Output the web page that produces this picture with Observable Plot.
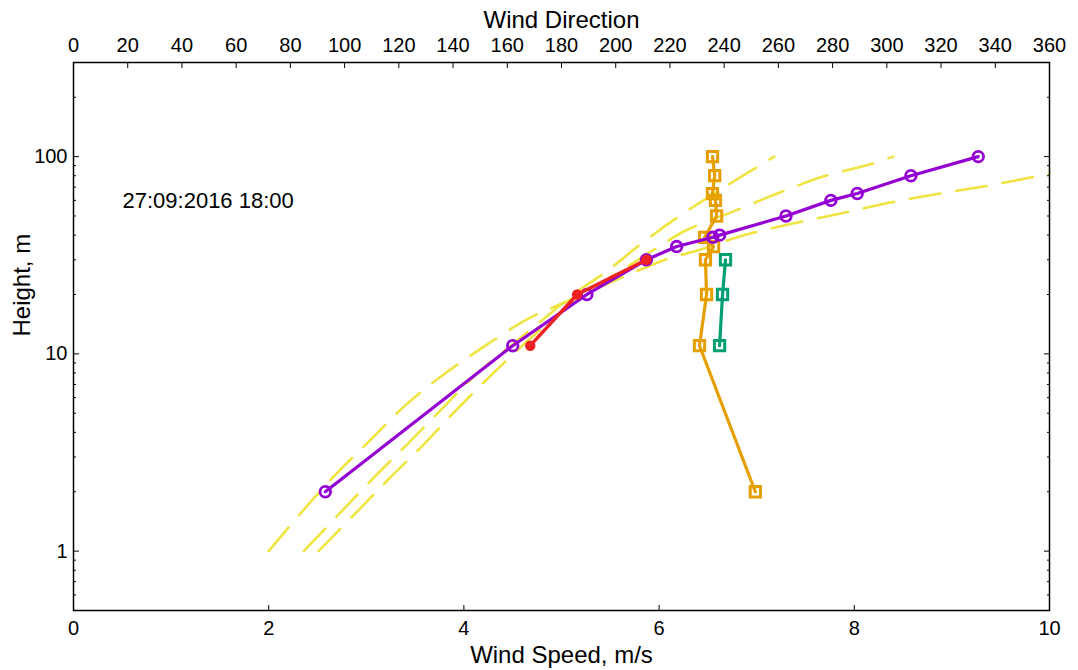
<!DOCTYPE html>
<html>
<head>
<meta charset="utf-8">
<script src="https://cdn.jsdelivr.net/npm/d3@7"></script>
<script src="https://cdn.jsdelivr.net/npm/@observablehq/plot@0.6"></script>
<style>
  html, body { margin: 0; padding: 0; background: #fff; }
  #chart svg { display: block; }
</style>
</head>
<body>
<div id="chart"></div>
<script>
// ---------- texts ----------
const dateLabel = "27:09:2016 18:00";
const xLabel = "Wind Speed, m/s";
const x2Label = "Wind Direction";
const yLabel = "Height, m";

// ---------- ticks ----------
const speedTicks = [0, 2, 4, 6, 8, 10];
const dirTicks = [0, 20, 40, 60, 80, 100, 120, 140, 160, 180, 200, 220, 240, 260, 280, 300, 320, 340, 360];
const heightTicks = [1, 10, 100];
const heightMinorTicks = [0.5, 0.6, 0.7, 0.8, 0.9, 2, 3, 4, 5, 6, 7, 8, 9, 20, 30, 40, 50, 60, 70, 80, 90, 200, 300];
const dirMax = 360;      // top axis spans 0–360°
const speedMax = 10;     // bottom axis spans 0–10 m/s

// ---------- measured wind speed profile (purple circles) ----------
const profileHeight = [2, 11, 20, 30, 35, 39, 40, 50, 60, 65, 80, 100];
const profileSpeed  = [2.58, 4.50, 5.26, 5.87, 6.18, 6.55, 6.62, 7.30, 7.76, 8.03, 8.58, 9.27];

// ---------- second wind speed profile (red dots) ----------
const lowHeight = [11, 20, 30];
const lowSpeed  = [4.68, 5.16, 5.87];

// ---------- wind direction profile (orange squares) ----------
const dirHeight = [2, 11, 20, 30, 35, 39, 50, 60, 65, 80, 100];
const dirValue  = [251.5, 230.9, 233.5, 233.1, 236.1, 232.8, 237.2, 236.8, 235.7, 236.5, 235.7];

// ---------- second wind direction profile (green squares) ----------
const dir2Height = [11, 20, 30];
const dir2Value  = [238.3, 239.4, 240.5];

// ---------- fitted profiles (yellow dashed) ----------
const fitASpeed  = [2.00, 2.33, 2.68, 3.04, 3.40, 3.81, 4.22, 4.66, 4.96, 5.50, 6.07, 6.39, 6.86, 7.37, 7.86, 8.37, 8.88, 9.38, 10.0];
const fitAHeight = [1.0, 1.56, 2.43, 3.65, 5.48, 7.97, 11.0, 15.1, 17.6, 23.0, 30.1, 33.4, 39.8, 45.8, 51.5, 58.5, 65.0, 71.3, 82.0];
const fitBSpeed  = [2.36, 2.72, 3.07, 3.43, 3.79, 4.15, 4.50, 4.85, 5.15, 5.45, 5.84, 6.25, 6.70, 7.18];
const fitBHeight = [1.0, 1.54, 2.34, 3.52, 5.36, 8.06, 11.2, 15.5, 20.5, 25.9, 36.9, 51.6, 71.6, 100];
const fitCSpeed  = [2.51, 2.87, 3.23, 3.59, 3.94, 4.30, 4.65, 5.00, 5.35, 5.70, 6.00, 6.27, 6.73, 7.21, 7.68, 8.19, 8.40];
const fitCHeight = [1.0, 1.52, 2.32, 3.48, 5.30, 7.97, 11.6, 16.3, 21.8, 28.2, 35.0, 42.2, 52.0, 65.0, 79.2, 92.2, 100];

// ---------- colours ----------
const cPurple = "#9400d3";
const cRed = "#ee2222";
const cOrange = "#e69f00";
const cGreen = "#009e73";
const cYellow = "#f0e442";

// ---------- tables ----------
const zip = (hs, vs, extra = {}) => hs.map((h, i) => ({h, v: vs[i], ...extra}));
const profile = zip(profileHeight, profileSpeed);
const low = zip(lowHeight, lowSpeed);
// direction is drawn against the top axis, which shares the x range: 360° ↔ 10 m/s
const dirToX = d => d * speedMax / dirMax;
const dir1 = zip(dirHeight, dirValue);
const dir2 = zip(dir2Height, dir2Value);
const fits = [
  ...zip(fitAHeight, fitASpeed, {fit: "A"}),
  ...zip(fitBHeight, fitBSpeed, {fit: "B"}),
  ...zip(fitCHeight, fitCSpeed, {fit: "C"})
];

const font = "'Liberation Sans', Arial, Helvetica, sans-serif";

const chart = Plot.plot({
  width: 1078,
  height: 670,
  marginLeft: 73,
  marginRight: 29,
  marginTop: 62,
  marginBottom: 60,
  style: {fontFamily: font, fontSize: "20px", color: "#000", background: "#fff", overflow: "visible"},
  x: {domain: [0, speedMax], axis: null},
  y: {type: "log", domain: [0.5, 300], axis: null},
  marks: [
    // fitted curves
    Plot.line(fits, {x: "v", y: "h", z: "fit", stroke: cYellow, strokeWidth: 2.6, strokeDasharray: "31,16", curve: "catmull-rom"}),
    // direction profiles
    Plot.line(dir1, {x: d => dirToX(d.v), y: "h", stroke: cOrange, strokeWidth: 3.2}),
    Plot.dot(dir1, {x: d => dirToX(d.v), y: "h", symbol: "square", r: 5.8, stroke: cOrange, strokeWidth: 3, fill: "none"}),
    Plot.line(dir2, {x: d => dirToX(d.v), y: "h", stroke: cGreen, strokeWidth: 3.2}),
    Plot.dot(dir2, {x: d => dirToX(d.v), y: "h", symbol: "square", r: 5.8, stroke: cGreen, strokeWidth: 3, fill: "none"}),
    // speed profiles
    Plot.line(profile, {x: "v", y: "h", stroke: cPurple, strokeWidth: 3.2}),
    Plot.dot(profile, {x: "v", y: "h", r: 5.3, stroke: cPurple, strokeWidth: 2.8, fill: "none"}),
    Plot.line(low, {x: "v", y: "h", stroke: cRed, strokeWidth: 3.4}),
    Plot.dot(low, {x: "v", y: "h", r: 5.2, fill: cRed}),

    // frame
    Plot.frame({stroke: "#000", strokeWidth: 1.5}),

    // bottom axis
    Plot.axisX(speedTicks, {anchor: "bottom", tickSize: 0, tickPadding: 10, fontSize: 20, label: null}),
    Plot.axisX(speedTicks, {anchor: "bottom", tickSize: -5, tickFormat: () => "", label: null}),
    // top axis (direction)
    Plot.axisX(dirTicks.map(dirToX), {anchor: "top", tickSize: 0, tickPadding: 11, fontSize: 20, tickFormat: d => Math.round(d * dirMax / speedMax), label: null}),
    Plot.axisX(dirTicks.map(dirToX), {anchor: "top", tickSize: -5, tickFormat: () => "", label: null}),
    // left axis
    Plot.axisY(heightTicks, {anchor: "left", tickSize: 0, tickPadding: 6, fontSize: 20, tickFormat: d => String(d), label: null}),
    Plot.axisY(heightTicks, {anchor: "left", tickSize: -6, tickFormat: () => "", label: null}),
    Plot.axisY(heightMinorTicks, {anchor: "left", tickSize: -3, tickFormat: () => "", label: null}),
    // right axis ticks only
    Plot.axisY(heightTicks, {anchor: "right", tickSize: -6, tickFormat: () => "", label: null}),
    Plot.axisY(heightMinorTicks, {anchor: "right", tickSize: -3, tickFormat: () => "", label: null}),

    // axis titles and annotation
    Plot.text([xLabel], {text: d => d, frameAnchor: "bottom", dy: 52, fontSize: 24}),
    Plot.text([x2Label], {text: d => d, frameAnchor: "top", dy: -52, fontSize: 24}),
    Plot.text([yLabel], {text: d => d, frameAnchor: "left", dx: -51, rotate: -90, fontSize: 24}),
    Plot.text([dateLabel], {text: d => d, frameAnchor: "top-left", dx: 49, dy: 130, textAnchor: "start", fontSize: 22})
  ]
});

document.getElementById("chart").appendChild(chart);
</script>
</body>
</html>
